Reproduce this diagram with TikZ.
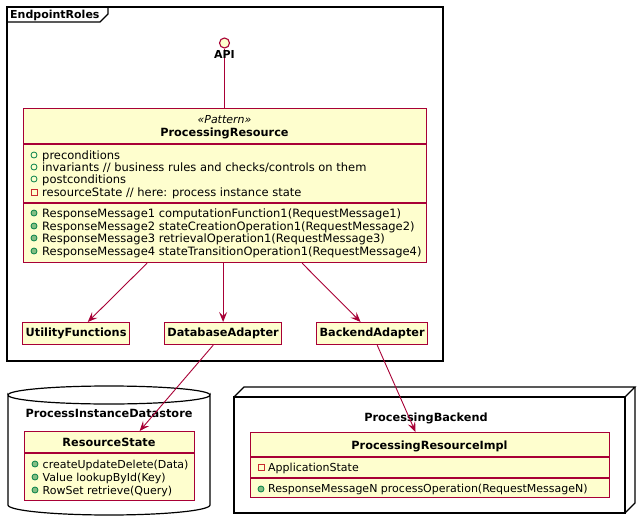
\documentclass[tikz,border=0pt]{standalone}
\usepackage{fontspec}
\setmainfont{DejaVu Sans}
\usetikzlibrary{arrows.meta}
\definecolor{umlfill}{HTML}{FEFECE}
\definecolor{umlline}{HTML}{A80036}
\definecolor{publine}{HTML}{038048}
\definecolor{pubfill}{HTML}{84BE84}
\definecolor{privline}{HTML}{C82930}
\begin{document}
\begin{tikzpicture}[x=1pt,y=-1pt,
  cls/.style={draw=umlline, fill=umlfill, line width=1.2pt, inner sep=0pt, anchor=north west},
  sep/.style={draw=umlline, line width=1.2pt},
  txt/.style={inner sep=0pt, anchor=base west, font=\fontsize{11.5}{13}\selectfont},
  stxt/.style={inner sep=0pt, anchor=base west, font=\fontsize{11}{13}\selectfont},
  ttl/.style={inner sep=0pt, anchor=base, font=\fontsize{11.3}{14}\selectfont\bfseries},
  ster/.style={inner sep=0pt, anchor=base, font=\fontsize{11}{13}\selectfont\itshape},
  cont/.style={draw=black, line width=1.2pt},
  conn/.style={draw=umlline, line width=0.9pt, -{Stealth[length=10pt,width=8pt,inset=4pt]}},
  pubf/.style={draw=publine, line width=0.8pt, fill=none},
  pubm/.style={draw=publine, line width=0.8pt, fill=pubfill},
  privf/.style={draw=privline, line width=0.8pt, fill=none}
]
\useasboundingbox (0,0) rectangle (640,522);
\fill[white] (0,0) rectangle (640,522);

% Frame EndpointRoles
\draw[cont] (7,7) rectangle (443,361);
\draw[cont] (7,22) -- (100,22) -- (108,14) -- (108,7);
\node[inner sep=0pt, anchor=base west, font=\fontsize{11}{13}\selectfont\bfseries] (frlabel) at (10,18) {EndpointRoles};

% ProcessingResource
\node[cls, minimum width=403pt, minimum height=154pt] (pr) at (23,108) {};
\node[ster] (prst) at (224.5,123) {«Pattern»};
\node[ttl] (prnm) at (224.5,136.5) {ProcessingResource};
\draw[sep] (23,144) -- (426,144);
\draw[sep] (23,203) -- (426,203);
\draw[pubf] (34,155) circle (3);
\draw[pubf] (34,167) circle (3);
\draw[pubf] (34,179) circle (3);
\draw[privf] (31,189) rectangle (37,195);
\node[txt] at (42,159) {preconditions};
\node[txt] at (42,171) {invariants // business rules and checks/controls on them};
\node[txt] at (42,183) {postconditions};
\node[txt] at (42,196) {resourceState // here: process instance state};
\draw[pubm] (34,213) circle (3);
\draw[pubm] (34,226) circle (3);
\draw[pubm] (34,238) circle (3);
\draw[pubm] (34,251) circle (3);
\node[txt] at (42,217) {ResponseMessage1 computationFunction1(RequestMessage1)};
\node[txt] at (42,230) {ResponseMessage2 stateCreationOperation1(RequestMessage2)};
\node[txt] at (42,242) {ResponseMessage3 retrievalOperation1(RequestMessage3)};
\node[txt] at (42,255) {ResponseMessage4 stateTransitionOperation1(RequestMessage4)};

% API interface
\node[circle, draw=umlline, fill=umlfill, line width=1.1pt, minimum size=10pt, inner sep=0pt] (api) at (224.5,43) {};
\draw[umlline, line width=0.9pt] (api.south) -- (api.south |- pr.north);
\node[inner sep=0pt, anchor=base, font=\fontsize{11}{13}\selectfont\bfseries] (apilabel) at (224.5,58) {API};

% Small classes
\node[cls, minimum width=107pt, minimum height=22pt] (uf) at (22,322) {};
\node[ttl, anchor=center] at (uf.center) {UtilityFunctions};
\node[cls, minimum width=117pt, minimum height=22pt] (da) at (164,322) {};
\node[ttl, anchor=center] at (da.center) {DatabaseAdapter};
\node[cls, minimum width=111pt, minimum height=22pt] (ba) at (316,322) {};
\node[ttl, anchor=center] at (ba.center) {BackendAdapter};

% Database cylinder
\draw[cont, fill=white] (8,395) -- (8,505) arc[start angle=180, end angle=0, x radius=101, y radius=10] -- (210,395) arc[start angle=0, end angle=180, x radius=101, y radius=9] -- cycle;
\draw[cont] (8,395) arc[start angle=180, end angle=360, x radius=101, y radius=9];
\node[ttl] (dblabel) at (109,417) {ProcessInstanceDatastore};

% ResourceState
\node[cls, minimum width=170pt, minimum height=69pt] (rs) at (24,431) {};
\node[ttl] at (109,446.5) {ResourceState};
\draw[sep] (24,453) -- (194,453);
\draw[pubm] (35,464) circle (3);
\draw[pubm] (35,477) circle (3);
\draw[pubm] (35,490) circle (3);
\node[stxt] at (42.5,468) {createUpdateDelete(Data)};
\node[stxt] at (42.5,481) {Value lookupById(Key)};
\node[stxt] at (42.5,494) {RowSet retrieve(Query)};

% Processing backend node (3D box)
\draw[cont, fill=white] (234,397) rectangle (625,513);
\draw[cont] (234,397) -- (244,387) -- (635,387) -- (625,397);
\draw[cont] (625,513) -- (635,503) -- (635,387);
\node[ttl] (nodelabel) at (426,421) {ProcessingBackend};

% ProcessingResourceImpl
\node[cls, minimum width=359pt, minimum height=65pt] (pri) at (250,432) {};
\node[ttl] at (429.5,449.5) {ProcessingResourceImpl};
\draw[sep] (250,457) -- (609,457);
\draw[sep] (250,478) -- (609,478);
\draw[privf] (258,464) rectangle (264,470);
\node[stxt] at (268,471) {ApplicationState};
\draw[pubm] (261,489) circle (3);
\node[stxt] at (268,492) {ResponseMessageN processOperation(RequestMessageN)};

% Connectors
\draw[conn] (pr) -- (uf);
\draw[conn] (pr.south -| da) -- (da);
\draw[conn] (pr) -- (ba);
\draw[conn] (da) -- (rs);
\draw[conn] (ba) -- (pri);
\end{tikzpicture}
\end{document}
